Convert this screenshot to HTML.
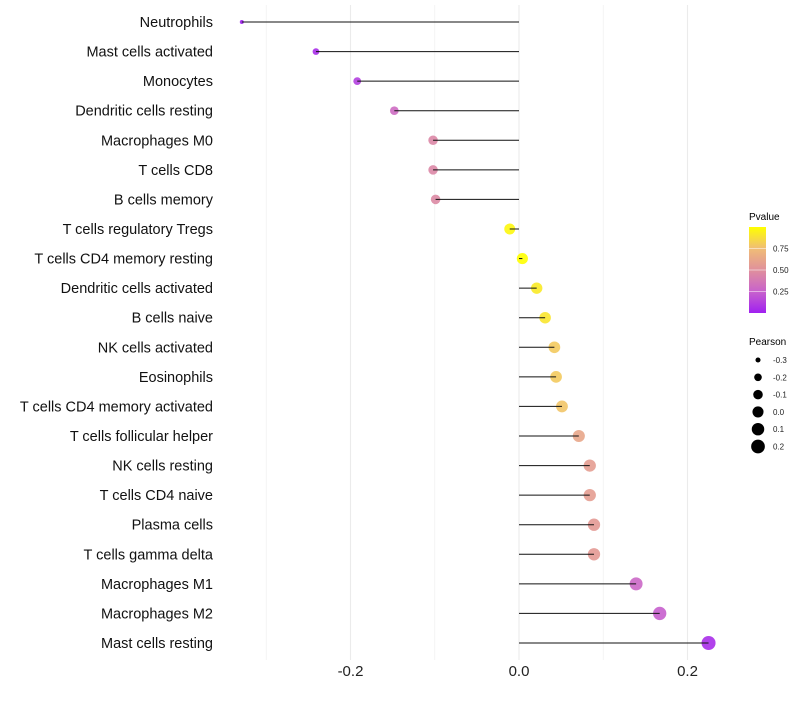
<!DOCTYPE html>
<html><head><meta charset="utf-8"><style>
body{margin:0;background:#fff;font-family:"Liberation Sans",sans-serif}
</style></head><body>
<svg id="chart" width="800" height="700" xmlns="http://www.w3.org/2000/svg" style="font-family:'Liberation Sans',sans-serif">
<g id="grid"></g>
<g id="marks"></g>
<g id="labels"></g>
<g id="xticks"></g>
<g id="legend">
<defs><linearGradient id="pg" x1="0" y1="1" x2="0" y2="0">
<stop offset="0" stop-color="#a020f0"/><stop offset="0.25" stop-color="#c862cc"/><stop offset="0.5" stop-color="#e0909c"/><stop offset="0.75" stop-color="#f0bd76"/><stop offset="1" stop-color="#ffff00"/></linearGradient></defs>
<text x="749" y="220" font-size="10">Pvalue</text>
<rect x="749" y="227" width="17" height="86" fill="url(#pg)"/>
</g>
</svg>
<script>
const categories=["Neutrophils","Mast cells activated","Monocytes","Dendritic cells resting","Macrophages M0","T cells CD8","B cells memory","T cells regulatory  Tregs","T cells CD4 memory resting","Dendritic cells activated","B cells naive","NK cells activated","Eosinophils","T cells CD4 memory activated","T cells follicular helper","NK cells resting","T cells CD4 naive","Plasma cells","T cells gamma delta","Macrophages M1","Macrophages M2","Mast cells resting"];
const pearson=[-0.329,-0.241,-0.192,-0.148,-0.102,-0.102,-0.099,-0.011,0.004,0.021,0.031,0.042,0.044,0.051,0.071,0.084,0.084,0.089,0.089,0.139,0.167,0.225];
const pvalue=[0.0,0.05,0.12,0.3,0.45,0.45,0.46,0.97,1.0,0.92,0.9,0.8,0.8,0.78,0.62,0.57,0.57,0.55,0.55,0.28,0.24,0.05];
const xTicks=[-0.2,0.0,0.2];
const xTickLabels=["-0.2","0.0","0.2"];
const minorTicks=[-0.3,-0.1,0.1];
const legendTicks=[0.25,0.5,0.75];
const legendTickLabels=["0.25","0.50","0.75"];
const sizeBreaks=[-0.3,-0.2,-0.1,0.0,0.1,0.2];
const sizeLabels=["-0.3","-0.2","-0.1","0.0","0.1","0.2"];

const NS="http://www.w3.org/2000/svg";
const X=v=>519+v*842.5;
const Y=i=>22+i*(621/21);
const R=v=>Math.sqrt(4+(v+0.33)*(49-4)/0.555);
const stops=[[0,[160,32,240]],[0.25,[200,98,204]],[0.5,[224,144,156]],[0.75,[240,189,118]],[1,[255,255,0]]];
function col(p){for(let i=1;i<stops.length;i++){if(p<=stops[i][0]){const a=stops[i-1],b=stops[i],t=(p-a[0])/(b[0]-a[0]);return "rgb("+a[1].map((c,k)=>Math.round(c+(b[1][k]-c)*t)).join(",")+")";}}return "rgb(255,255,0)";}
function mk(tag,attrs,parent,text){const e=document.createElementNS(NS,tag);for(const k in attrs)e.setAttribute(k,attrs[k]);if(text!==undefined)e.textContent=text;document.getElementById(parent).appendChild(e);return e;}

minorTicks.forEach(v=>{const l=mk("line",{x1:X(v),x2:X(v),y1:5,y2:660,stroke:"#f2f2f2","stroke-width":0.8},"grid");

});
xTicks.forEach((v,i)=>{const l=mk("line",{x1:X(v),x2:X(v),y1:5,y2:660,stroke:"#ebebeb","stroke-width":1.1},"grid");


const t=mk("text",{x:X(v),y:676,"font-size":15,"text-anchor":"middle",fill:"#222"},"xticks",xTickLabels[i]);

});
categories.forEach((c,i)=>{const y=Y(i);
const t=mk("text",{x:213,y:y+5,"font-size":14.5,"text-anchor":"end",fill:"#111"},"labels",c);


const d=mk("circle",{cx:X(pearson[i]),cy:y,r:R(pearson[i]),fill:col(pvalue[i]),"fill-opacity":0.9},"marks");


const l=mk("line",{x1:X(0),x2:X(pearson[i]),y1:y,y2:y,stroke:"#111","stroke-width":1},"marks");

});
legendTicks.forEach((p,i)=>{const y=313-p*86;
const t=mk("text",{x:773,y:y+3,"font-size":8,fill:"#222"},"legend",legendTickLabels[i]);


const tk=mk("line",{x1:749,x2:766,y1:y,y2:y,stroke:"#fff","stroke-opacity":0.5},"legend");

});
const pt=mk("text",{x:749,y:345,"font-size":10},"legend","Pearson");


sizeBreaks.forEach((v,i)=>{const y=360+i*17.3;
const c=mk("circle",{cx:758,cy:y,r:R(v),fill:"#000"},"legend");


const t=mk("text",{x:773,y:y+3,"font-size":8,fill:"#222"},"legend",sizeLabels[i]);

});
</script>
</body></html>
